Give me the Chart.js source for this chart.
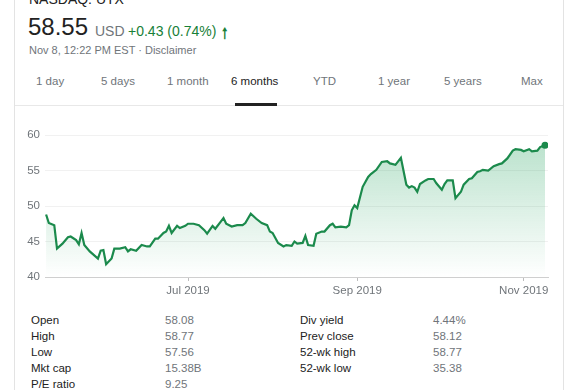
<!DOCTYPE html>
<html>
<head>
<meta charset="utf-8">
<script src="https://cdn.jsdelivr.net/npm/chart.js@4"></script>
<style>
  html, body { margin: 0; padding: 0; background: #fff; }
  body { width: 585px; height: 390px; position: relative; overflow: hidden; font-family: Arial, "Liberation Sans", sans-serif; }
  .card { position: absolute; left: 14px; top: -10px; width: 548px; height: 420px; border-left: 1px solid #e3e3e3; border-right: 1px solid #e3e3e3; }
  .abs { position: absolute; white-space: nowrap; }
  #ticker { left: 29px; top: -9px; font-size: 14px; color: #222; }
  #price { left: 28px; top: 13px; font-size: 24px; color: #222; }
  #cur { left: 95px; top: 23px; font-size: 14px; color: #70757a; }
  #chg { left: 128px; top: 23px; font-size: 14px; color: #188038; }
  #arrow { left: 222px; top: 22px; font-size: 15px; font-weight: bold; color: #188038; font-family: "DejaVu Sans", sans-serif; }
  #sub { left: 29px; top: 44px; font-size: 11px; color: #70757a; }
  .tab { top: 75px; font-size: 11.5px; color: #70757a; }
  .tab.on { color: #222; }
  #sep { left: 15px; top: 105px; width: 548px; height: 1px; background: #e8e8e8; }
  #bar { left: 235px; top: 103px; width: 42px; height: 3px; background: #222; }
  #chartBox { position: absolute; left: 0; top: 110px; width: 585px; height: 200px; }
  .st { font-size: 11.5px; }
  .lab { color: #222; }
  .val { color: #70757a; }
</style>
</head>
<body>
<div class="card"></div>
<div class="abs" id="ticker">NASDAQ: UTX</div>
<div class="abs" id="price">58.55</div>
<div class="abs" id="cur">USD</div>
<div class="abs" id="chg">+0.43 (0.74%)</div>
<div class="abs" id="arrow">&#129041;</div>
<div class="abs" id="sub">Nov 8, 12:22 PM EST · Disclaimer</div>
<div id="tabs"></div>
<div class="abs" id="sep"></div>
<div class="abs" id="bar"></div>
<div id="chartBox"><canvas id="stockChart" width="585" height="200"></canvas></div>
<div id="stats"></div>

<script>
// 6 month closing prices, x = day of year 2019
const dayOfYear = [130, 131, 133, 134, 136, 138, 139, 141, 142, 143, 144, 146, 149, 150, 151, 152, 154, 155, 157, 159,
  160, 161, 163, 165, 167, 168, 170, 171, 173, 174, 175, 176, 178, 179, 181, 182, 184, 186, 188, 189,
  191, 192, 194, 195, 196, 198, 200, 202, 203, 205, 207, 209, 211, 212, 213, 215, 217, 218, 220, 221,
  222, 224, 225, 226, 228, 229, 231, 232, 234, 235, 236, 238, 240, 241, 242, 243, 244, 246, 248, 249,
  251, 253, 255, 256, 258, 260, 262, 263, 264, 265, 266, 267, 269, 270, 272, 273, 275, 276, 277, 279,
  280, 282, 283, 285, 286, 288, 289, 290, 292, 294, 296, 297, 299, 301, 302, 304, 305, 307, 308, 310,
  311, 312.8];
const prices = [48.8, 47.6, 47.3, 44.0, 44.7, 45.6, 45.7, 45.2, 44.6, 46.2, 44.5, 43.6, 42.6, 43.7, 43.8, 41.8, 42.6, 44.0, 44.0, 44.2,
  43.6, 43.9, 43.7, 44.5, 44.3, 44.3, 45.4, 45.4, 46.2, 46.4, 47.2, 46.2, 47.2, 46.9, 47.2, 47.5, 47.5, 47.3, 46.6, 46.1,
  47.2, 46.8, 47.8, 48.3, 47.5, 47.1, 47.3, 47.3, 47.6, 48.9, 48.2, 47.6, 47.3, 46.4, 46.2, 44.8, 44.3, 44.5, 44.4, 45.0,
  44.7, 44.8, 45.8, 44.5, 44.4, 46.1, 46.4, 46.4, 47.3, 47.5, 47.0, 47.1, 47.0, 47.3, 49.4, 50.1, 49.7, 52.7, 54.1, 54.5,
  55.1, 56.2, 56.3, 56.0, 55.8, 56.8, 53.0, 52.6, 52.8, 52.6, 52.0, 53.1, 53.6, 53.8, 53.8, 53.2, 52.3, 53.1, 53.6, 53.6,
  51.1, 52.0, 53.0, 53.8, 53.9, 54.8, 54.9, 55.1, 55.0, 55.6, 55.9, 56.0, 56.7, 57.8, 58.0, 57.9, 57.7, 58.0, 57.7, 57.8,
  58.3, 58.55];

const tickDays = [182, 244, 305];
const tickLabels = ['Jul 2019', 'Sep 2019', 'Nov 2019'];
const yTicks = [40, 45, 50, 55, 60];

const ranges = ['1 day', '5 days', '1 month', '6 months', 'YTD', '1 year', '5 years', 'Max'];
const rangeX = [36, 101, 167, 231, 313, 378, 444, 521];

const statLabels1 = ['Open', 'High', 'Low', 'Mkt cap', 'P/E ratio'];
const statValues1 = ['58.08', '58.77', '57.56', '15.38B', '9.25'];
const statLabels2 = ['Div yield', 'Prev close', '52-wk high', '52-wk low'];
const statValues2 = ['4.44%', '58.12', '58.77', '35.38'];

// tabs
const tabs = document.getElementById('tabs');
ranges.forEach((r, i) => {
  const d = document.createElement('div');
  d.className = 'abs tab' + (r === '6 months' ? ' on' : '');
  d.style.left = rangeX[i] + 'px';
  d.textContent = r;
  tabs.appendChild(d);
});

// key stats table
const stats = document.getElementById('stats');
function addCol(items, x, cls) {
  items.forEach((t, i) => {
    const d = document.createElement('div');
    d.className = 'abs st ' + cls;
    d.style.left = x + 'px';
    d.style.top = (314 + i * 16) + 'px';
    d.textContent = t;
    stats.appendChild(d);
  });
}
addCol(statLabels1, 31, 'lab');
addCol(statValues1, 165, 'val');
addCol(statLabels2, 300, 'lab');
addCol(statValues2, 433, 'val');

const green = '#1b8a4c';
const points = dayOfYear.map((d, i) => ({ x: d, y: prices[i] }));
const last = points.length - 1;

const ctx = document.getElementById('stockChart').getContext('2d');
new Chart(ctx, {
  type: 'line',
  data: {
    datasets: [{
      data: points,
      borderColor: green,
      borderWidth: 2.2,
      tension: 0,
      fill: 'start',
      backgroundColor: (c) => {
        const area = c.chart.chartArea;
        if (!area) return 'rgba(30,142,78,0.15)';
        const g = c.chart.ctx.createLinearGradient(0, area.top, 0, area.bottom);
        g.addColorStop(0, 'rgba(30,160,90,0.32)');
        g.addColorStop(1, 'rgba(30,160,90,0)');
        return g;
      },
      pointRadius: (c) => c.dataIndex === last ? 3.5 : 0,
      pointBackgroundColor: green,
      pointBorderWidth: 0
    }]
  },
  options: {
    responsive: false,
    animation: false,
    layout: { padding: { top: 25, right: 37, bottom: 0, left: 0 } },
    plugins: { legend: { display: false }, tooltip: { enabled: false } },
    scales: {
      x: {
        type: 'linear',
        min: 129.6,
        max: 313.9,
        afterBuildTicks: (s) => { s.ticks = tickDays.map(v => ({ value: v })); },
        afterFit: (s) => { s.height = 33; },
        ticks: {
          autoSkip: false,
          maxRotation: 0,
          padding: 3,
          color: '#70757a',
          font: { size: 11.5, family: 'Arial, "Liberation Sans", sans-serif' },
          callback: (v) => tickLabels[tickDays.indexOf(v)]
        },
        grid: { drawOnChartArea: false, drawTicks: true, tickLength: 4, color: '#bdbdbd' },
        border: { display: true, color: '#cfcfcf', width: 1 }
      },
      y: {
        min: 40,
        max: 60,
        afterBuildTicks: (s) => { s.ticks = yTicks.map(v => ({ value: v })); },
        afterFit: (s) => { s.width = 45; },
        ticks: {
          padding: 5,
          color: '#70757a',
          font: { size: 11.5, family: 'Arial, "Liberation Sans", sans-serif' }
        },
        grid: { drawTicks: false, color: (c) => c.tick && c.tick.value === 40 ? 'rgba(0,0,0,0)' : '#f1f1f1' },
        border: { display: false }
      }
    }
  }
});
</script>
</body>
</html>
